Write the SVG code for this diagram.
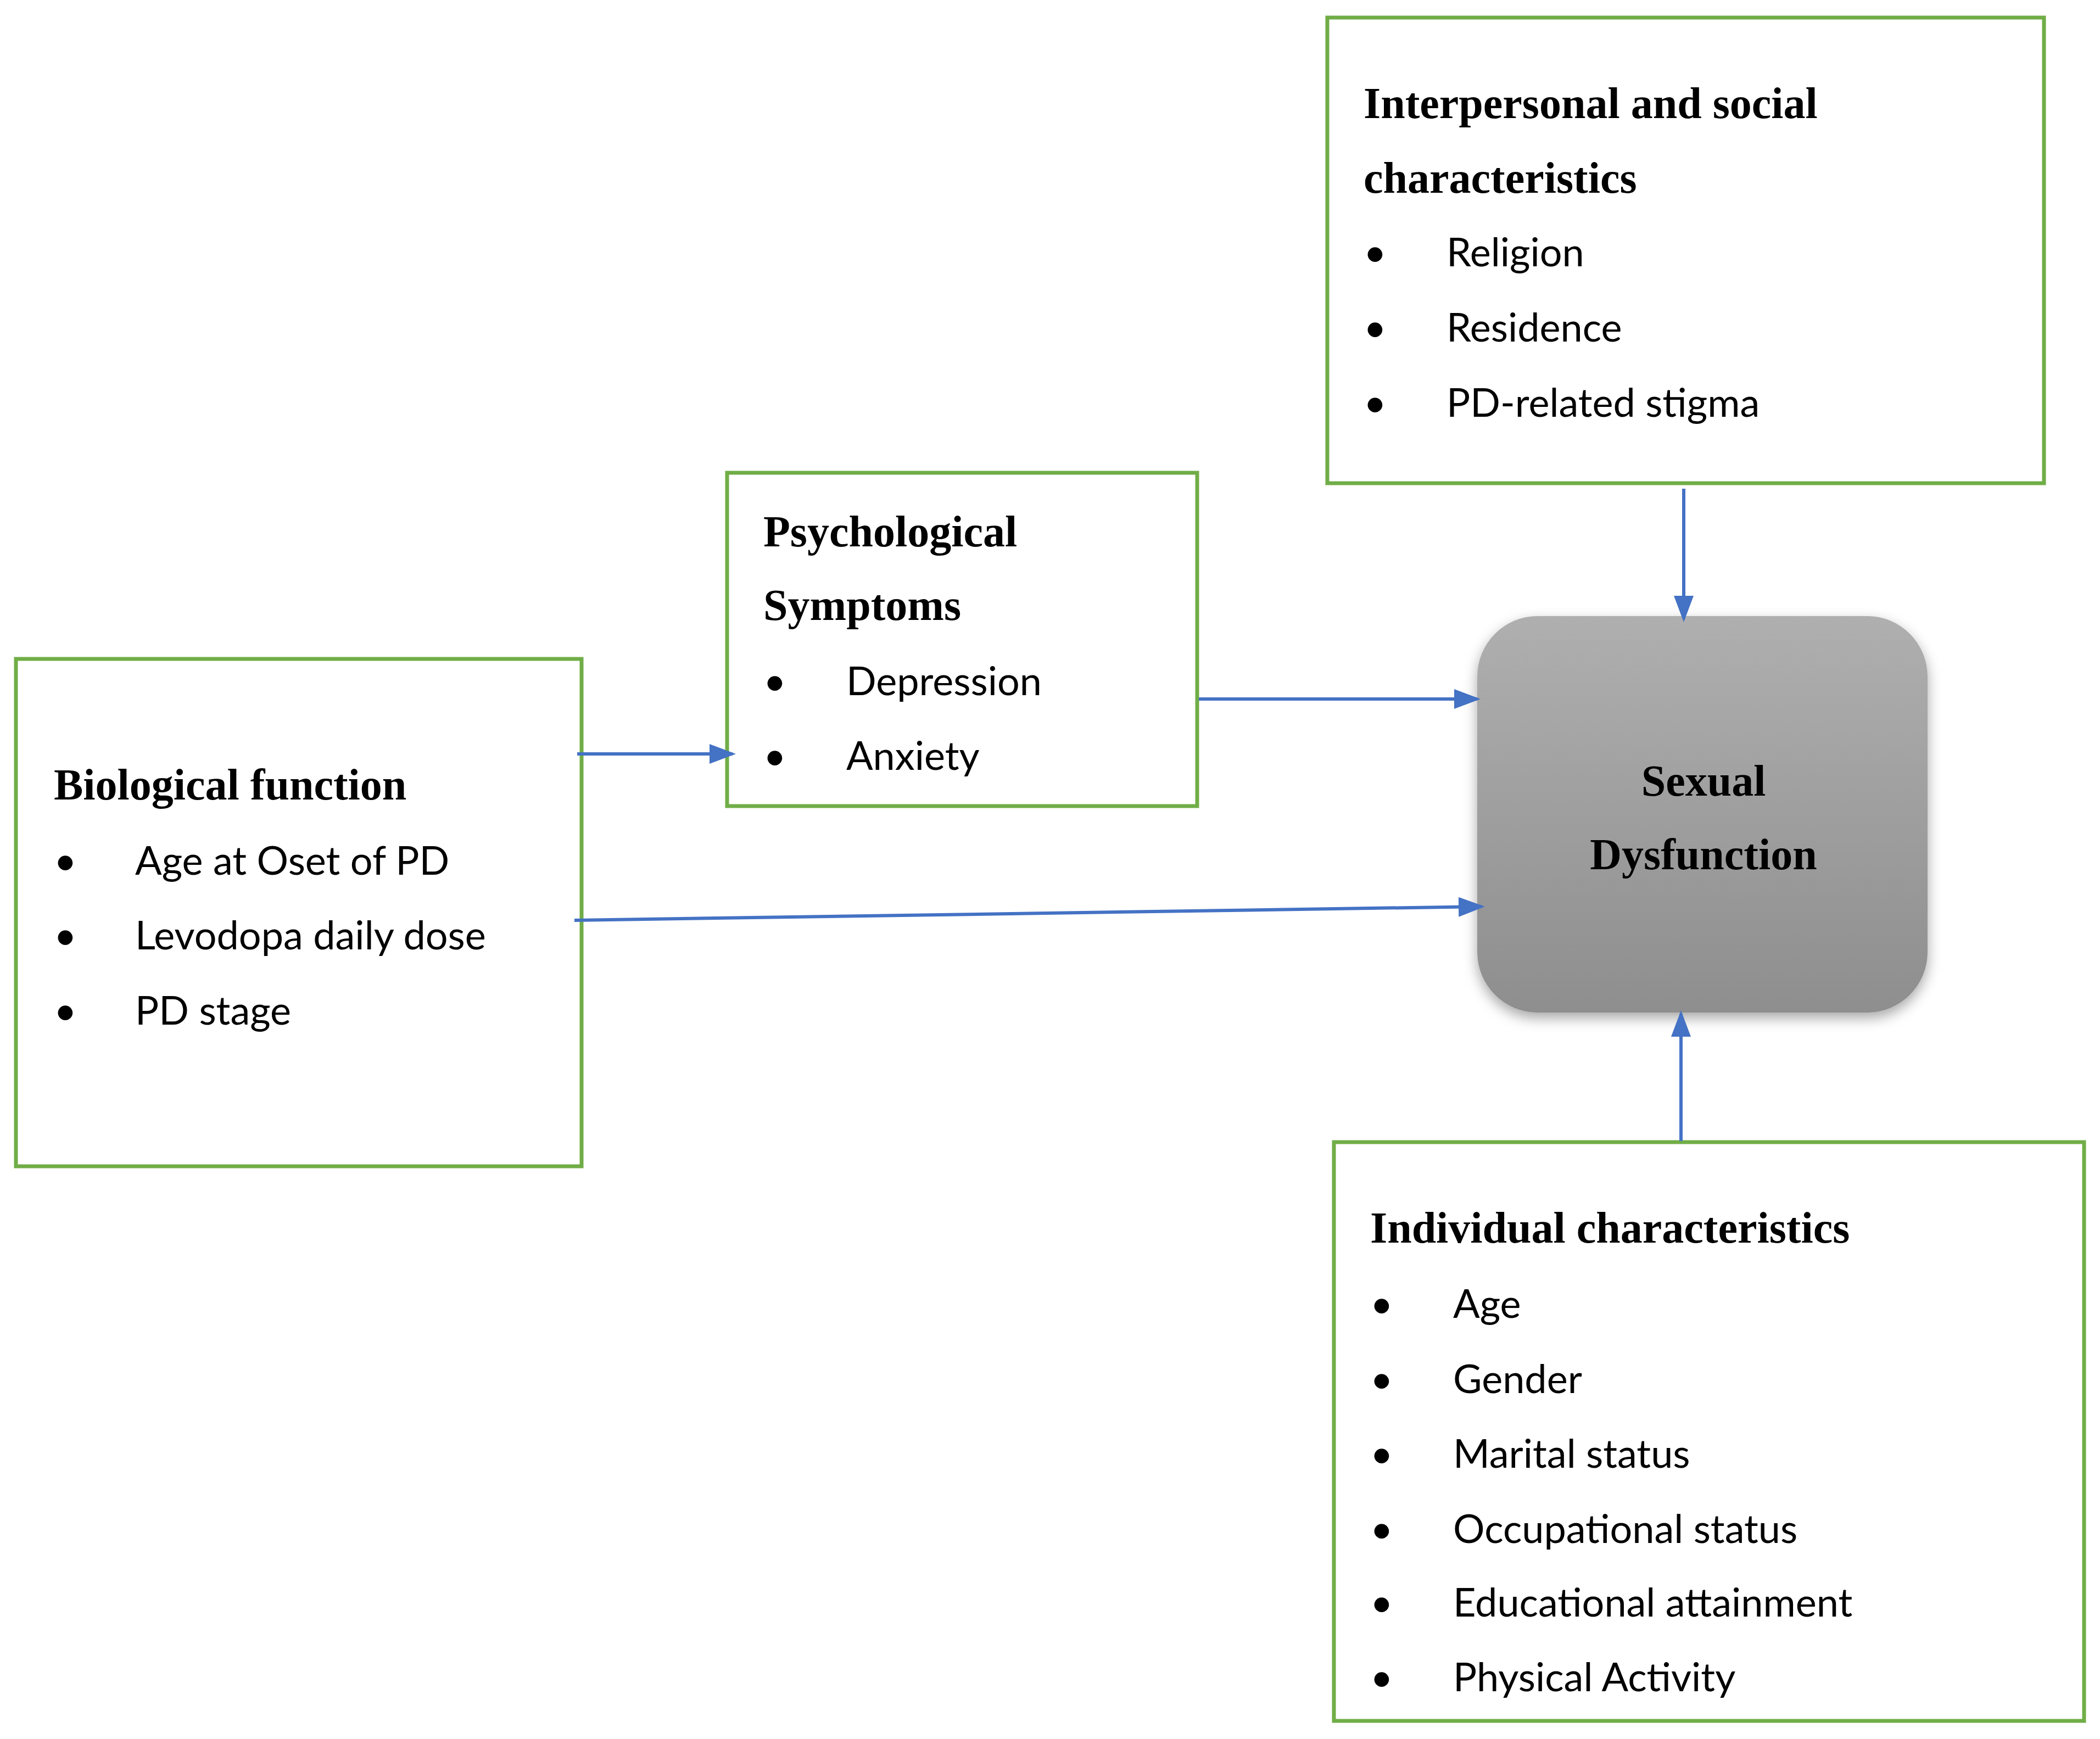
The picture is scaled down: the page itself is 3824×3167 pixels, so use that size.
<svg xmlns="http://www.w3.org/2000/svg" width="3824" height="3167" viewBox="0 0 3824 3167">
<style>
.box{fill:#fff;stroke:#70AD47;stroke-width:7}
.t{font-family:"Liberation Serif",serif;font-weight:bold;font-size:80px;fill:#000}
.b{font-family:Lato,"Open Sans",sans-serif;font-size:72px;fill:#000}
.c{stroke:#4472C4;stroke-width:6;fill:none;marker-end:url(#ah)}
</style>
<defs>
<marker id="ah" markerWidth="8" markerHeight="6" refX="7" refY="3" orient="auto" markerUnits="strokeWidth"><path d="M0,0 L8,3 L0,6 z" fill="#4472C4"/></marker>
<linearGradient id="g" x1="0" y1="0" x2="0" y2="1"><stop offset="0" stop-color="#afafaf"/><stop offset="1" stop-color="#8e8e8e"/></linearGradient>
<filter id="sh" x="-10%" y="-10%" width="120%" height="125%"><feDropShadow dx="0" dy="10" stdDeviation="12" flood-opacity="0.35"/></filter>
</defs>
<rect width="3824" height="3167" fill="#fff"/>
<g id="interpersonal">
<rect class="box" x="2417" y="32" width="1305" height="848"/>
<text class="t" x="2483" y="215">Interpersonal and social</text>
<text class="t" x="2483" y="351">characteristics</text>
<text class="b" x="2483" y="485"><tspan x="2483">•</tspan><tspan x="2634">Religion</tspan></text>
<text class="b" y="622"><tspan x="2483">•</tspan><tspan x="2634">Residence</tspan></text>
<text class="b" y="759"><tspan x="2483">•</tspan><tspan x="2634">PD-related stigma</tspan></text>
</g>
<g id="psychological">
<rect class="box" x="1324" y="861" width="856" height="607"/>
<text class="t" x="1390" y="995">Psychological</text>
<text class="t" x="1390" y="1129">Symptoms</text>
<text class="b" y="1266"><tspan x="1390">•</tspan><tspan x="1541">Depression</tspan></text>
<text class="b" y="1402"><tspan x="1390">•</tspan><tspan x="1541">Anxiety</tspan></text>
</g>
<g id="biological">
<rect class="box" x="29" y="1200" width="1030" height="924"/>
<text class="t" x="98" y="1456">Biological function</text>
<text class="b" y="1593"><tspan x="98">•</tspan><tspan x="246">Age at Oset of PD</tspan></text>
<text class="b" y="1729"><tspan x="98">•</tspan><tspan x="246">Levodopa daily dose</tspan></text>
<text class="b" y="1866"><tspan x="98">•</tspan><tspan x="246">PD stage</tspan></text>
</g>
<g id="individual">
<rect class="box" x="2429" y="2080" width="1366" height="1054"/>
<text class="t" x="2495" y="2263">Individual characteristics</text>
<text class="b" y="2400"><tspan x="2495">•</tspan><tspan x="2646">Age</tspan></text>
<text class="b" y="2537"><tspan x="2495">•</tspan><tspan x="2646">Gender</tspan></text>
<text class="b" y="2673"><tspan x="2495">•</tspan><tspan x="2646">Marital status</tspan></text>
<text class="b" y="2810"><tspan x="2495">•</tspan><tspan x="2646">Occupational status</tspan></text>
<text class="b" y="2944"><tspan x="2495">•</tspan><tspan x="2646">Educational attainment</tspan></text>
<text class="b" y="3080"><tspan x="2495">•</tspan><tspan x="2646">Physical Activity</tspan></text>
</g>
<g id="sexual">
<rect x="2690" y="1122" width="820" height="722" rx="110" fill="url(#g)" filter="url(#sh)"/>
<text class="t" x="3102" y="1449" text-anchor="middle" font-size="98">Sexual</text>
<text class="t" x="3102" y="1583" text-anchor="middle" font-size="98">Dysfunction</text>
</g>
<g id="connectors">
<line class="c" x1="3066" y1="890" x2="3066" y2="1127"/>
<line class="c" x1="2183" y1="1273" x2="2690" y2="1273"/>
<line class="c" x1="1051" y1="1373" x2="1334" y2="1373"/>
<line class="c" x1="1046" y1="1676" x2="2698" y2="1651"/>
<line class="c" x1="3061" y1="2078" x2="3061" y2="1846"/>
</g>
</svg>
